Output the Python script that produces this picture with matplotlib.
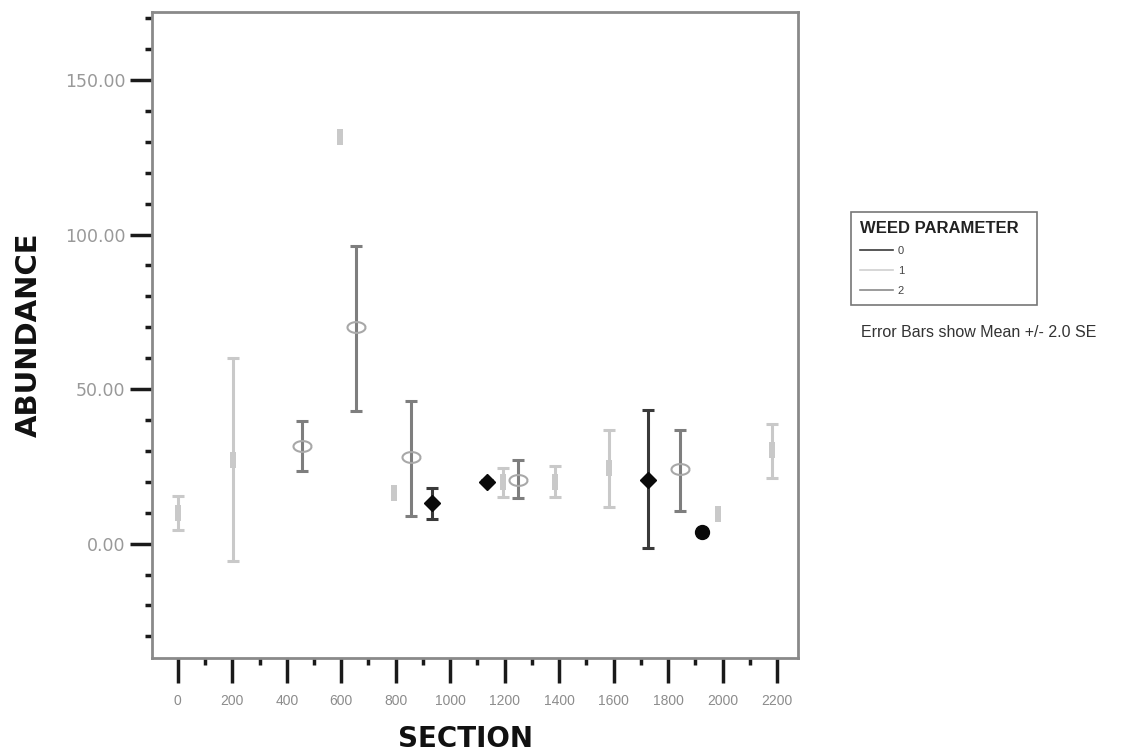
import numpy as np
import matplotlib
matplotlib.use('Agg')
import matplotlib.pyplot as plt
from matplotlib.ticker import MultipleLocator, FixedLocator

plt.rcParams['font.family'] = ['Liberation Sans', 'DejaVu Sans']

# weed parameter 0 (black)
sec0 = [933, 1135, 1726, 1925]
mean0 = [13.3, 20.1, 20.7, 3.9]
lo0 = [8.1, 19.6, -1.3, 3.9]
hi0 = [18.1, 20.6, 43.4, 3.9]

# weed parameter 1 (light grey)
sec1 = [0, 202, 595, 793, 1194, 1385, 1583, 1983, 2182]
mean1 = [10.0, 27.2, 131.7, 16.5, 20.0, 20.0, 24.6, 9.7, 30.4]
lo1 = [4.5, -5.5, 131.7, 16.5, 15.2, 15.2, 11.7, 9.7, 21.4]
hi1 = [15.5, 60.2, 131.7, 16.5, 24.6, 25.0, 36.9, 9.7, 38.8]

# weed parameter 2 (mid grey)
sec2 = [455, 654, 856, 1249, 1844]
mean2 = [31.7, 70.2, 28.0, 20.7, 24.0]
lo2 = [23.6, 43.0, 9.0, 14.9, 10.4]
hi2 = [39.8, 96.4, 46.0, 27.2, 36.9]

x_ticks = list(range(0, 2201, 200))
y_ticks = [0, 50, 100, 150]

fig = plt.figure(figsize=(11.29, 7.55), dpi=100)
ax = fig.add_axes([0.1346, 0.1285, 0.5722, 0.8555])

rect = [(-0.35, -1), (0.35, -1), (0.35, 1), (-0.35, 1), (-0.35, -1)]
t = np.linspace(0, 2 * np.pi, 40)
ellipse = list(zip(np.cos(t), 0.6 * np.sin(t)))


def draw(sec, mean, lo, hi, ecol, **mk):
    s = np.array(sec)
    m = np.array(mean)
    l = np.array(lo)
    h = np.array(hi)
    keep = h > l  # single values have no bar
    ax.errorbar(s[keep], m[keep], yerr=[m[keep] - l[keep], h[keep] - m[keep]],
                fmt='none', ecolor=ecol, elinewidth=2.2, capsize=4.5,
                capthick=2.2, zorder=2)
    ax.plot(sec, mean, linestyle='none', zorder=3, **mk)


draw(sec1, mean1, lo1, hi1, '#c9c9c9', marker=rect, markersize=11,
     color='#c9c9c9', markeredgewidth=0)
draw(sec2, mean2, lo2, hi2, '#7e7e7e', marker=ellipse, markersize=13,
     markerfacecolor='none', markeredgecolor='#a8a8a8', markeredgewidth=1.5)
draw(sec0[:3], mean0[:3], lo0[:3], hi0[:3], '#3a3a3a', marker='D',
     markersize=8, color='#0a0a0a')
draw(sec0[3:], mean0[3:], lo0[3:], hi0[3:], '#3a3a3a', marker='o',
     markersize=10, color='#0a0a0a')

ax.set_xlim(-95, 2277)
ax.set_ylim(-37, 172)

ax.xaxis.set_major_locator(FixedLocator(x_ticks))
ax.xaxis.set_minor_locator(MultipleLocator(100))
ax.yaxis.set_major_locator(FixedLocator(y_ticks))
ax.yaxis.set_minor_locator(MultipleLocator(10))
ax.set_xticklabels([str(v) for v in x_ticks])
ax.set_yticklabels(['%.2f' % v for v in y_ticks], family='DejaVu Sans')

ax.tick_params(axis='x', which='major', length=18, width=2.5, color='#1a1a1a',
               labelsize=10, labelcolor='#8c8c8c', pad=8)
ax.tick_params(axis='x', which='minor', length=5, width=2.5, color='#1a1a1a')
ax.tick_params(axis='y', which='major', length=16, width=2.5, color='#1a1a1a',
               labelsize=12.5, labelcolor='#999999', pad=3)
ax.tick_params(axis='y', which='minor', length=5, width=2.5, color='#1a1a1a')

for s in ax.spines.values():
    s.set_color('#8a8a8a')
    s.set_linewidth(2)

ax.set_xlabel('SECTION', fontsize=20, fontweight='bold', color='#111111',
              family='DejaVu Sans', labelpad=14)
ax.xaxis.set_label_coords(0.486, -0.104)
ax.set_ylabel('ABUNDANCE', fontsize=21, fontweight='bold', color='#111111',
              family='DejaVu Sans', labelpad=16)

# legend
h0, = ax.plot([], [], color='#3a3a3a', linewidth=1.2)
h1, = ax.plot([], [], color='#cfcfcf', linewidth=1.2)
h2, = ax.plot([], [], color='#8a8a8a', linewidth=1.2)
leg = fig.legend([h0, h1, h2], ['0', '1', '2'], title='WEED PARAMETER',
                 loc='upper left', bbox_to_anchor=(0.7538, 0.60, 0.1647, 0.1192),
                 mode='expand', borderaxespad=0, fontsize=8, handlelength=3.0,
                 handletextpad=0.4, labelspacing=0.9, borderpad=0.8,
                 alignment='left', fancybox=False, framealpha=1,
                 edgecolor='#777777')
leg.get_title().set_fontweight('bold')
leg.get_title().set_fontsize(12)
leg.get_title().set_color('#222222')
leg.get_frame().set_linewidth(1.2)
for txt in leg.get_texts():
    txt.set_color('#444444')

fig.text(0.763, 0.559, 'Error Bars show Mean +/- 2.0 SE', fontsize=11.5,
         color='#333333', va='center')

fig.savefig('out.png', dpi=100)
